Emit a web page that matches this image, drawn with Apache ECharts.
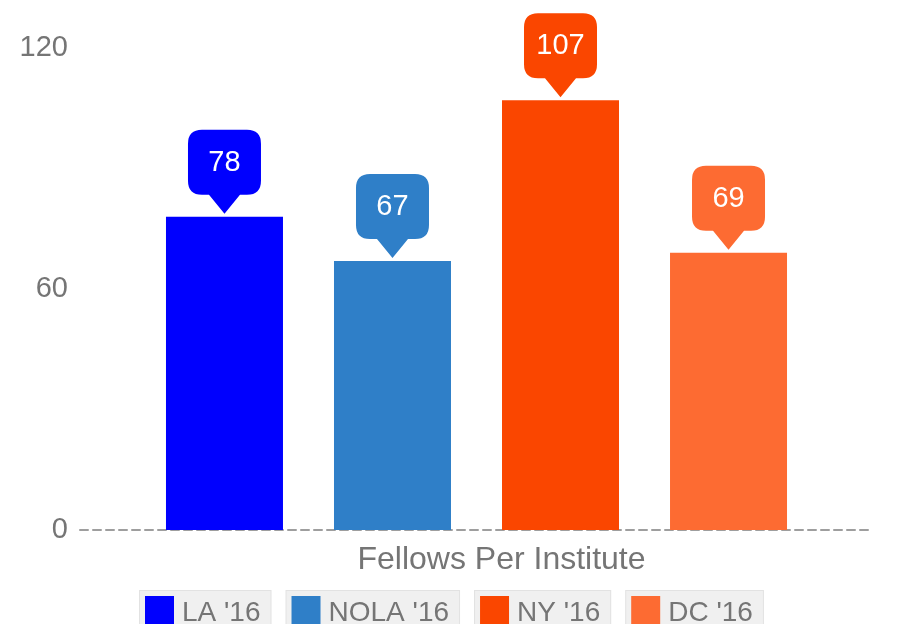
<!DOCTYPE html>
<html>
<head>
<meta charset="utf-8">
<title>Fellows Per Institute</title>
<script src="https://cdn.jsdelivr.net/npm/echarts@6/dist/echarts.min.js"></script>
<style>
  html, body { margin: 0; padding: 0; background: #fff; }
  #chart { width: 911px; height: 624px; }
</style>
</head>
<body>
<div id="chart"></div>
<script>
var category = ['Fellows Per Institute'];
var seriesNames = ["LA '16", "NOLA '16", "NY '16", "DC '16"];
var seriesValues = [78, 67, 107, 69];
var seriesColors = ['#0000fe', '#2f7fc8', '#fa4600', '#fd6b32'];
var yTicks = [0, 60, 120];

// callout bubble with a pointer at the bottom
var bubble = 'path://M14,0 L59,0 Q73,0 73,14 L73,51 Q73,65 59,65 L52,65 L36.5,84 L21,65 L14,65 Q0,65 0,51 L0,14 Q0,0 14,0 Z';

var rich = { t: { fontSize: 28, color: '#757575', padding: [0, 0, 0, 8], fontFamily: 'Liberation Sans, Arial' } };
var series = [];
for (var i = 0; i < seriesNames.length; i++) {
    rich['c' + i] = { backgroundColor: seriesColors[i], width: 29, height: 34 };
    series.push({
        name: seriesNames[i],
        type: 'bar',
        barWidth: 117,
        barGap: '43.6%',
        itemStyle: { color: seriesColors[i] },
        data: [seriesValues[i]],
        markPoint: {
            symbol: bubble,
            symbolSize: [73, 84],
            symbolOffset: [0, -45],
            itemStyle: { color: seriesColors[i] },
            label: {
                show: true,
                color: '#fff',
                fontSize: 29,
                fontFamily: 'Liberation Sans, Arial',
                offset: [0, -9]
            },
            data: [{ type: 'max' }]
        }
    });
}

var myChart = echarts.init(document.getElementById('chart'));
var option = {
    animation: false,
    grid: { left: 80, right: 38, top: 48, bottom: 94 },
    legend: {
        left: 130,
        top: 585,
        icon: 'none',
        itemWidth: 0,
        itemGap: 10,
        selectedMode: false,
        data: seriesNames,
        formatter: function (name) {
            return '{c' + seriesNames.indexOf(name) + '|}{t|' + name + '}';
        },
        textStyle: {
            backgroundColor: '#f0f0f0',
            borderColor: '#e2e2e2',
            borderWidth: 1,
            padding: [5, 10, 10, 5],
            rich: rich
        }
    },
    xAxis: {
        type: 'category',
        data: category,
        axisLine: { lineStyle: { color: '#9e9e9e', width: 2, type: [8, 5] } },
        axisTick: { show: false },
        axisLabel: {
            color: '#757575',
            fontSize: 32,
            fontFamily: 'Liberation Sans, Arial',
            margin: 14,
            padding: [0, 0, 0, 50]
        }
    },
    yAxis: {
        type: 'value',
        min: yTicks[0],
        max: yTicks[yTicks.length - 1],
        interval: yTicks[1] - yTicks[0],
        splitLine: { show: false },
        axisLine: { show: false },
        axisTick: { show: false },
        axisLabel: {
            color: '#757575',
            fontSize: 29,
            fontFamily: 'Liberation Sans, Arial',
            margin: 12
        }
    },
    series: series
};
myChart.setOption(option);
</script>
</body>
</html>
